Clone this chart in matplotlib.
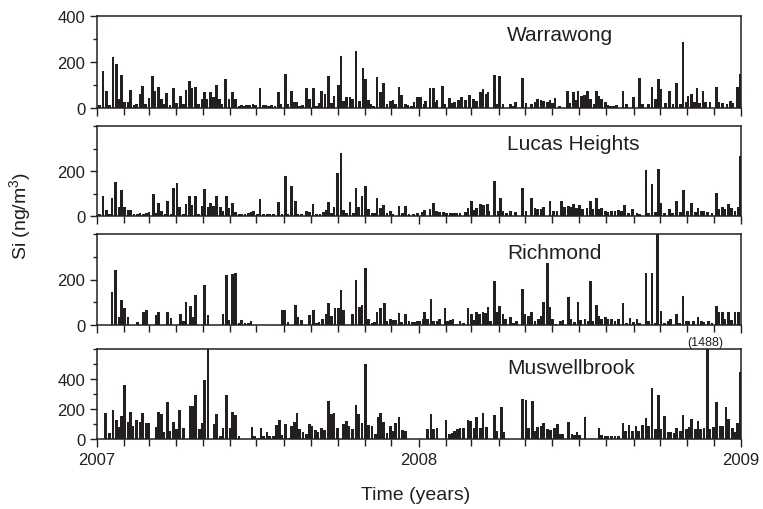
import numpy as np
import matplotlib.pyplot as plt
from matplotlib.ticker import MultipleLocator

plt.rcParams['font.family'] = ['Liberation Sans', 'DejaVu Sans']
plt.rcParams['mathtext.fontset'] = 'custom'
plt.rcParams['mathtext.rm'] = 'Liberation Sans'

# sample day (days since 1 Jan 2007) and Si concentration (ng/m3)
wa_days = [3, 7, 11, 14, 18, 22, 25, 28, 31, 35, 38, 42, 45, 49, 52, 55, 59, 63, 66, 70, 73, 76, 79, 83,
           87, 90, 95, 98, 101, 105, 108, 112, 115, 119, 122, 125, 129, 132, 136, 139, 142, 146, 150, 154,
           157, 161, 164, 167, 170, 173, 177, 180, 185, 189, 192, 195, 198, 202, 206, 209, 214, 217, 221,
           224, 227, 230, 233, 238, 241, 246, 249, 252, 255, 259, 263, 266, 269, 274, 277, 280, 283, 287,
           290, 294, 298, 302, 305, 308, 311, 314, 318, 322, 325, 329, 333, 336, 339, 343, 346, 350, 353,
           357, 360, 364,
           367, 371, 373, 378, 382, 385, 386, 392, 395, 400, 403, 406, 410, 414, 418, 423, 427, 431, 435,
           438, 442, 444, 451, 454, 457, 461, 469, 473, 475, 483, 487, 493, 497, 500, 504, 507, 511, 514,
           517, 520, 525, 534, 537, 541, 544, 546, 550, 553, 557, 560, 564, 567, 570, 573, 577, 580, 583,
           586, 590, 597, 601, 609, 616, 619, 626, 630, 634, 637, 640, 645, 650, 654, 658, 662, 665, 669,
           671, 675, 678, 681, 684, 688, 691, 696, 703, 706, 710, 715, 719, 722, 727, 730]
wa_vals = [12, 162, 73, 12, 222, 193, 38, 143, 24, 24, 78, 12, 16, 62, 97, 16, 44, 140, 72, 91, 41, 16, 65,
           12, 85, 21, 54, 16, 78, 118, 85, 93, 16, 41, 68, 41, 68, 47, 101, 38, 16, 124, 38, 70, 38, 9,
           13, 9, 15, 13, 18, 12, 87, 12, 12, 9, 15, 10, 68, 16, 149, 16, 73, 25, 25, 9, 15, 87, 38, 85, 9,
           21, 73, 62, 137, 21, 53, 100, 228, 31, 46, 50, 38, 247, 29, 176, 125, 35, 16, 9, 135, 68, 109,
           19, 29, 35, 16, 90, 56, 18, 12, 9, 26, 47,
           49, 17, 32, 87, 87, 25, 36, 97, 17, 42, 22, 28, 36, 46, 36, 56, 39, 32, 68, 82, 61, 68, 143, 17,
           140, 17, 17, 10, 25, 130, 22, 17, 25, 39, 36, 32, 28, 35, 22, 42, 7, 75, 22, 68, 36, 75, 54, 57,
           75, 39, 17, 75, 54, 39, 25, 13, 10, 10, 13, 75, 17, 46, 130, 17, 17, 90, 39, 126, 82, 22, 75,
           17, 107, 17, 285, 28, 54, 61, 25, 85, 22, 75, 25, 28, 90, 28, 22, 17, 32, 22, 90, 148]

lh_days = [3, 7, 11, 14, 17, 21, 25, 28, 31, 35, 38, 42, 46, 49, 53, 56, 59, 64, 67, 70, 73, 77, 80, 84,
           87, 91, 94, 98, 101, 105, 108, 112, 115, 119, 122, 126, 129, 132, 136, 140, 143, 147, 150, 154,
           157, 161, 164, 168, 172, 175, 178, 182, 185, 189, 193, 196, 200, 206, 210, 214, 217, 221, 225,
           228, 232, 238, 241, 245, 249, 253, 257, 260, 263, 266, 269, 273, 277, 280, 283, 287, 291, 294,
           297, 301, 305, 308, 312, 315, 318, 322, 325, 329, 333, 336, 343, 347, 350, 354, 359, 364,
           369, 372, 378, 382, 385, 389, 393, 397, 401, 405, 408, 412, 418, 421, 425, 428, 431, 435, 439,
           443, 445, 451, 455, 458, 461, 465, 469, 475, 483, 487, 493, 497, 500, 504, 507, 514, 518, 522,
           527, 531, 535, 538, 541, 544, 548, 551, 556, 560, 563, 567, 570, 573, 577, 580, 584, 588, 592,
           595, 599, 603, 608, 613, 616, 623, 626, 630, 634, 637, 640, 644, 650, 653, 658, 662, 666, 670,
           675, 679, 682, 686, 689, 693, 698, 703, 706, 710, 713, 717, 720, 724, 728, 730]
lh_vals = [9, 88, 25, 9, 79, 151, 38, 116, 38, 25, 25, 9, 8, 15, 7, 15, 19, 97, 15, 60, 21, 8, 65, 8, 126,
           146, 38, 8, 53, 90, 50, 90, 8, 44, 118, 38, 56, 44, 91, 38, 21, 88, 35, 57, 16, 8, 8, 8, 12, 19,
           24, 8, 74, 8, 8, 8, 8, 62, 8, 178, 8, 134, 68, 8, 8, 22, 20, 53, 8, 11, 20, 28, 62, 15, 41, 193,
           281, 25, 12, 62, 15, 126, 41, 87, 134, 31, 12, 12, 78, 35, 48, 12, 21, 10, 44, 12, 43, 10, 10, 12,
           19, 26, 31, 60, 24, 16, 18, 15, 12, 15, 13, 13, 16, 35, 68, 26, 35, 53, 50, 53, 24, 156, 24, 79,
           24, 12, 21, 16, 124, 24, 82, 35, 31, 31, 38, 65, 24, 21, 65, 38, 46, 41, 53, 35, 50, 31, 35, 65,
           31, 82, 31, 35, 24, 16, 21, 24, 26, 21, 50, 12, 31, 12, 9, 203, 12, 141, 16, 207, 60, 12, 31, 12,
           68, 16, 115, 24, 57, 16, 35, 24, 21, 16, 12, 101, 31, 38, 31, 53, 34, 21, 38, 266]

ri_days = [17, 21, 25, 28, 31, 35, 46, 53, 56, 67, 70, 80, 84, 95, 98, 101, 106, 109, 112, 122, 126, 143,
           147, 150, 154, 157, 161, 164, 168, 172, 175, 210, 213, 217, 225, 228, 232, 241, 246, 249, 252,
           256, 260, 263, 266, 270, 274, 277, 280, 290, 294, 298, 301, 305, 308, 312, 315, 318, 322, 326,
           329, 333, 336, 339, 343, 346, 350, 354, 358, 361, 364,
           366, 370, 372, 375, 379, 382, 386, 389, 395, 398, 401, 404, 408, 412, 416, 421, 425, 428, 431,
           434, 438, 441, 444, 447, 451, 454, 457, 461, 464, 469, 473, 476, 483, 486, 490, 493, 497, 501,
           504, 507, 511, 514, 517, 521, 526, 529, 535, 538, 542, 546, 549, 554, 558, 560, 563, 567, 570,
           573, 577, 580, 584, 588, 592, 597, 601, 605, 609, 613, 616, 623, 626, 630, 634, 636, 640, 644,
           649, 651, 658, 661, 665, 669, 672, 677, 682, 686, 689, 694, 698, 703, 706, 710, 713, 717, 720,
           724, 728]
ri_vals = [144, 240, 33, 110, 74, 37, 15, 55, 65, 44, 55, 55, 30, 50, 18, 101, 83, 37, 132, 178, 43, 50,
           221, 24, 225, 228, 9, 21, 9, 7, 19, 67, 65, 12, 89, 33, 24, 46, 68, 9, 15, 28, 50, 95, 39, 73, 73,
           153, 67, 50, 196, 79, 89, 252, 28, 7, 13, 56, 74, 95, 18, 25, 21, 21, 53, 15, 47, 16, 15, 15, 18,
           18, 25, 59, 25, 114, 18, 18, 25, 74, 18, 21, 25, 6, 18, 9, 74, 50, 22, 55, 50, 55, 53, 77, 18,
           193, 55, 84, 47, 25, 36, 10, 18, 159, 50, 40, 55, 18, 25, 40, 99, 272, 77, 25, 6, 18, 21, 124,
           25, 15, 99, 21, 25, 18, 193, 18, 87, 40, 25, 33, 25, 25, 18, 25, 95, 10, 30, 15, 25, 10, 230, 18,
           230, 10, 410, 62, 10, 18, 25, 50, 10, 129, 18, 18, 18, 36, 18, 15, 18, 10, 84, 59, 55, 25, 55,
           21, 55, 55]

mu_days = [10, 14, 18, 22, 25, 28, 31, 35, 38, 41, 45, 49, 52, 56, 59, 67, 70, 73, 76, 80, 83, 87, 90, 94,
           98, 106, 109, 112, 116, 119, 122, 126, 133, 136, 140, 143, 147, 151, 154, 157, 161, 176, 179,
           183, 186, 189, 193, 196, 200, 204, 207, 210, 214, 218, 221, 224, 227, 230, 234, 238, 241, 244,
           248, 251, 255, 258, 263, 266, 269, 273, 280, 283, 286, 290, 294, 297, 301, 305, 308, 312, 316,
           319, 322, 325, 329, 333, 336, 339, 343, 347, 350,
           375, 379, 382, 386, 396, 400, 403, 406, 409, 412, 416, 421, 424, 428, 431, 435, 438, 442, 451,
           454, 459, 462, 483, 487, 490, 494, 497, 500, 504, 507, 511, 515, 519, 523, 526, 529, 535, 539,
           542, 545, 548, 554, 570, 573, 577, 580, 584, 588, 592, 597, 600, 604, 608, 612, 615, 619, 623,
           626, 630, 634, 637, 640, 644, 648, 651, 655, 658, 662, 665, 669, 672, 675, 679, 682, 685, 689,
           693, 696, 700, 703, 707, 710, 714, 717, 721, 724, 727, 730]
mu_vals = [171, 38, 196, 127, 78, 151, 360, 111, 178, 89, 127, 116, 171, 104, 104, 78, 178, 169, 49, 249,
           56, 116, 67, 193, 73, 218, 218, 296, 67, 104, 393, 650, 100, 167, 18, 76, 293, 73, 178, 162, 22,
           82, 22, 4, 71, 18, 44, 18, 18, 96, 127, 27, 100, 9, 89, 111, 171, 67, 44, 33, 100, 89, 60, 44,
           71, 60, 256, 167, 171, 73, 100, 118, 89, 67, 229, 167, 104, 500, 93, 84, 33, 144, 171, 116, 38,
           84, 56, 107, 144, 60, 51,
           67, 167, 67, 73, 129, 33, 40, 56, 67, 71, 73, 127, 120, 73, 144, 73, 171, 82, 160, 56, 211, 49,
           267, 262, 71, 256, 56, 78, 84, 104, 67, 62, 76, 100, 33, 33, 116, 33, 27, 49, 27, 144, 73, 27,
           22, 18, 18, 18, 18, 104, 56, 93, 56, 89, 56, 93, 138, 89, 338, 67, 296, 67, 151, 49, 49, 40, 73,
           56, 160, 67, 78, 133, 67, 122, 67, 76, 1488, 67, 78, 249, 84, 84, 211, 133, 71, 44, 104, 449]

stations = ['Warrawong', 'Lucas Heights', 'Richmond', 'Muswellbrook']
series = [(wa_days, wa_vals), (lh_days, lh_vals), (ri_days, ri_vals), (mu_days, mu_vals)]
ylims = [400, 400, 400, 600]
year_days = [0, 365, 731]
year_labels = ['2007', '2008', '2009']

ink = '#231f20'
fig = plt.figure(figsize=(7.63, 5.1), dpi=100)
W, H = 763, 510
panels = [(17, 109), (127, 217), (235, 326), (350, 440)]

month_days = (np.arange('2007-01', '2009-02', dtype='datetime64[M]').astype('datetime64[D]')
              - np.datetime64('2007-01-01')).astype(int)

axes = []
for i, (top, bot) in enumerate(panels):
    ax = fig.add_axes([97 / W, 1 - bot / H, 644 / W, (bot - top) / H])
    days, vals = series[i]
    ax.bar(days, vals, width=3.0, color=ink, edgecolor='none', linewidth=0)
    ax.set_xlim(0, 731)
    ax.set_ylim(0, ylims[i])
    if i in (1, 2):
        ax.set_yticks([0, 200])
        ax.set_yticks([100, 300, 400], minor=True)
    else:
        ax.yaxis.set_major_locator(MultipleLocator(200))
        ax.yaxis.set_minor_locator(MultipleLocator(100))
        if i == 3:
            ax.set_yticks([0, 200, 400])
    ax.set_xticks(year_days)
    ax.set_xticks(month_days, minor=True)
    ax.tick_params(axis='both', which='both', direction='out', colors=ink, labelsize=12,
                   top=False, right=False)
    ax.tick_params(axis='y', which='major', length=5, width=1)
    ax.tick_params(axis='y', which='minor', length=3, width=1)
    ax.tick_params(axis='x', which='major', length=6, width=1)
    ax.tick_params(axis='x', which='minor', length=5, width=1)
    if i == 3:
        ax.set_xticklabels(year_labels)
    else:
        ax.set_xticklabels([])
    for s in ax.spines.values():
        s.set_color(ink)
        s.set_linewidth(1.1)
    ax.text(0.637, 0.80, stations[i], transform=ax.transAxes, fontsize=15,
            color=ink, ha='left', va='center')
    axes.append(ax)

axes[3].text(690, 604, '(1488)', fontsize=9, color=ink, ha='center', va='bottom', clip_on=False)

fig.text(21 / W, 1 - 216 / H, 'Si (ng/m$^3$)', rotation=90, fontsize=14, color=ink,
         ha='center', va='center')
fig.text(416 / W, 1 - 496 / H, 'Time (years)', fontsize=14, color=ink, ha='center', va='center')

fig.savefig('out.png', dpi=100)
